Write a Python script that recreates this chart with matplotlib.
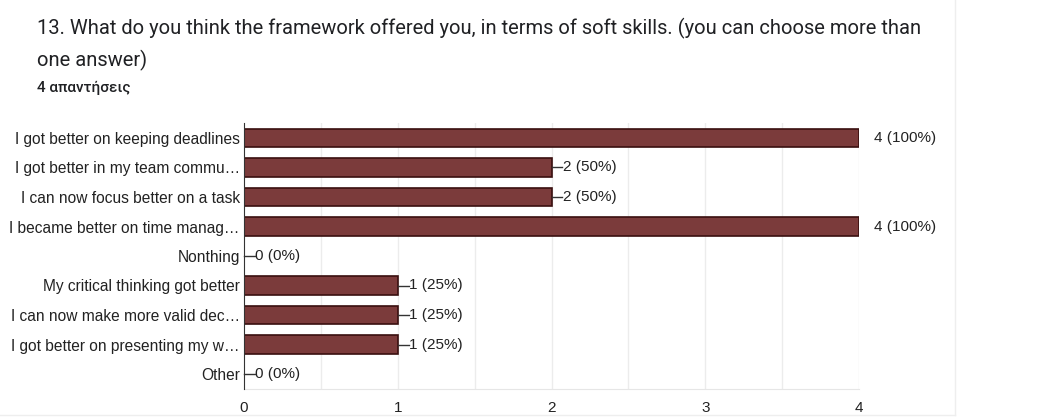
import matplotlib.pyplot as plt
from matplotlib.lines import Line2D

plt.rcParams['font.family'] = ['Liberation Sans', 'DejaVu Sans']

categories = [
    "I got better on keeping deadlines",
    "I got better in my team commu\u2026",
    "I can now focus better on a task",
    "I became better on time manag\u2026",
    "Nonthing",
    "My critical thinking got better",
    "I can now make more valid dec\u2026",
    "I got better on presenting my w\u2026",
    "Other",
]
counts = [4, 2, 2, 4, 0, 1, 1, 1, 0]
total = 4
xticks = [0, 1, 2, 3, 4]

fig = plt.figure(figsize=(10.37, 4.19), dpi=100)
fig.patch.set_facecolor("white")

# faint card border
fig.add_artist(Line2D([955 / 1037, 955 / 1037], [1 - 415 / 419, 1.0], color="#eeeeee", lw=1))
fig.add_artist(Line2D([0.0, 955 / 1037], [1 - 415 / 419, 1 - 415 / 419], color="#eeeeee", lw=1))

title_font = ["Roboto", "DejaVu Sans"]
fig.text(37 / 1037, 1 - 28 / 419,
         "13. What do you think the framework offered you, in terms of soft skills. (you can choose more than",
         fontsize=14.5, family=title_font, color="#202124", va="center")
fig.text(37 / 1037, 1 - 60 / 419, "one answer)",
         fontsize=14.5, family=title_font, color="#202124", va="center")
fig.text(37 / 1037, 1 - 88 / 419, "4 απαντήσεις",
         fontsize=11, family=title_font, color="#202124", va="center", weight="medium")

ax = fig.add_axes([244 / 1037, 1 - 388.75 / 419, (859 - 244) / 1037, 265.5 / 419])
y = list(range(len(categories)))
ax.barh(y, counts, height=0.62, color="#7b3b3b", edgecolor="#3a0f0f", linewidth=1.2, zorder=3)

for yi, c in zip(y, counts):
    pct = round(100 * c / total)
    label = f"{c} ({pct}%)"
    if c == total:
        ax.text(c + 0.1, yi, label, va="center", ha="left", fontsize=11, color="#222222")
    else:
        ax.plot([c, c + 0.07], [yi, yi], color="#333333", lw=1, zorder=4, clip_on=False)
        ax.text(c + 0.072, yi, label, va="center", ha="left", fontsize=11, color="#222222")

ax.set_ylim(len(categories) - 0.5, -0.5)
ax.set_xlim(0, 4)
ax.set_yticks(y)
ax.set_yticklabels(categories, fontsize=11.2, color="#222222")
ax.set_xticks(xticks)
ax.set_xticklabels([str(t) for t in xticks], fontsize=11, color="#222222")
ax.tick_params(axis="both", length=0)
ax.tick_params(axis="y", pad=3)
ax.tick_params(axis="x", pad=9)

for gx in [0.5 * i for i in range(1, 9)]:
    ax.axvline(gx, color="#ececec", lw=1, zorder=1)

for s in ["top", "right"]:
    ax.spines[s].set_visible(False)
ax.spines["left"].set_color("#333333")
ax.spines["left"].set_zorder(5)
ax.spines["bottom"].set_color("#e6e6e6")

fig.savefig("out.png", dpi=100)
